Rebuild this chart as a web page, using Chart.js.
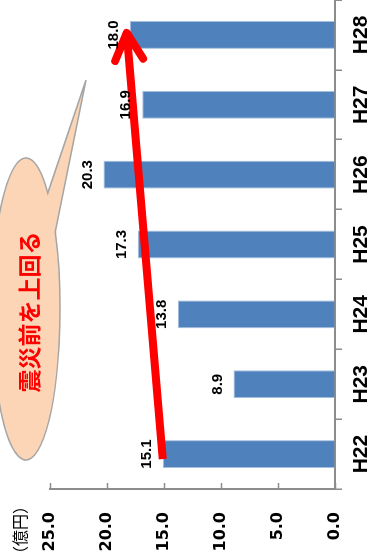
<!DOCTYPE html>
<html lang="ja">
<head>
<meta charset="utf-8">
<title>年度別推移</title>
<script src="https://cdn.jsdelivr.net/npm/chart.js@4.4.1/dist/chart.umd.min.js"></script>
<style>
  html, body { margin: 0; padding: 0; background: #fff; }
  body { width: 374px; height: 556px; overflow: hidden; position: relative; }
  /* chart is laid out landscape, then turned a quarter turn to the left */
  #wrap {
    position: absolute; left: 0; top: 0;
    width: 556px; height: 374px;
    transform-origin: 0 0;
    transform: translate(0, 556px) rotate(-90deg);
  }
</style>
</head>
<body>
<div id="wrap"><canvas id="chart" width="556" height="374"></canvas></div>
<script>
const years = ['H22', 'H23', 'H24', 'H25', 'H26', 'H27', 'H28'];
const amounts = [15.1, 8.9, 13.8, 17.3, 20.3, 16.9, 18.0];
const yTicks = [0, 5, 10, 15, 20, 25];
const unitLabel = '（億円）';
const calloutText = '震災前を上回る';

const AXIS_GREY = '#8c8c8c';

// value printed just past the end of each bar (drawn last so it sits over the arrow)
const valueLabels = {
  id: 'valueLabels',
  afterDraw(chart) {
    const ctx = chart.ctx;
    const meta = chart.getDatasetMeta(0);
    ctx.save();
    ctx.font = 'bold 15px "Liberation Sans", Arial, sans-serif';
    ctx.fillStyle = '#000';
    ctx.textAlign = 'center';
    ctx.textBaseline = 'alphabetic';
    meta.data.forEach((bar, i) => {
      ctx.fillText(amounts[i].toFixed(1), bar.x, bar.y - 12);
    });
    ctx.restore();
  }
};

// short tick marks on the inside of the value axis
const innerTicks = {
  id: 'innerTicks',
  afterDraw(chart) {
    const { ctx, scales: { y } } = chart;
    ctx.save();
    ctx.strokeStyle = AXIS_GREY;
    ctx.lineWidth = 1.5;
    y.ticks.forEach(t => {
      const py = Math.round(y.getPixelForValue(t.value)) + 0.5;
      ctx.beginPath();
      ctx.moveTo(y.right, py);
      ctx.lineTo(y.right + 6, py);
      ctx.stroke();
    });
    ctx.restore();
  }
};

// unit caption, speech bubble and the red trend arrow
const annotations = {
  id: 'annotations',
  afterDraw(chart) {
    const { ctx, scales: { x, y }, chartArea } = chart;
    ctx.save();

    ctx.font = '16px "Noto Sans CJK JP", sans-serif';
    ctx.fillStyle = '#000';
    ctx.textAlign = 'right';
    ctx.textBaseline = 'middle';
    ctx.fillText(unitLabel, chartArea.left - 9, 20);

    // bubble: ellipse with a pointed tail
    const ex = chartArea.left + 180, ey = 26, rx = 151, ry = 34;
    const tA = 0.695, tB = 1.034;
    const tipX = chartArea.left + 409, tipY = 86;
    ctx.beginPath();
    ctx.ellipse(ex, ey, rx, ry, 0, tB, tA + Math.PI * 2);
    ctx.lineTo(tipX, tipY);
    ctx.closePath();
    ctx.fillStyle = '#fbd5b5';
    ctx.fill();
    ctx.strokeStyle = '#a5a5a5';
    ctx.lineWidth = 1.5;
    ctx.stroke();

    ctx.font = 'bold 23px "Noto Sans CJK JP", sans-serif';
    ctx.fillStyle = '#ff0000';
    ctx.textAlign = 'center';
    ctx.textBaseline = 'middle';
    ctx.fillText(calloutText, ex - 3, ey + 3);

    // arrow from the first year's bar to the last year's bar
    const last = amounts.length - 1;
    const x0 = x.getPixelForValue(0) - 5, y0 = y.getPixelForValue(amounts[0]);
    const x1 = x.getPixelForValue(last) + 2, y1 = y.getPixelForValue(amounts[last]) - 3;
    const len = Math.hypot(x0 - x1, y0 - y1);
    const ux = (x0 - x1) / len, uy = (y0 - y1) / len;
    const nx = -uy, ny = ux;
    ctx.strokeStyle = '#ff0000';
    ctx.lineWidth = 8;
    ctx.lineCap = 'butt';
    ctx.beginPath();
    ctx.moveTo(x0, y0);
    ctx.lineTo(x1, y1);
    ctx.stroke();
    ctx.lineCap = 'round';
    ctx.lineJoin = 'round';
    ctx.beginPath();
    ctx.moveTo(x1 + ux * 27 + nx * 14, y1 + uy * 27 + ny * 14);
    ctx.lineTo(x1, y1);
    ctx.lineTo(x1 + ux * 27 - nx * 14, y1 + uy * 27 - ny * 14);
    ctx.stroke();

    ctx.restore();
  }
};

new Chart(document.getElementById('chart'), {
  type: 'bar',
  data: {
    labels: years,
    datasets: [{
      data: amounts,
      backgroundColor: '#4f81bd',
      borderColor: '#a7c0de',
      borderWidth: 1,
      barPercentage: 0.4,
      categoryPercentage: 1.0
    }]
  },
  options: {
    responsive: false,
    animation: false,
    layout: { padding: { top: 50, right: 0, bottom: 0, left: 0 } },
    plugins: {
      legend: { display: false },
      tooltip: { enabled: false }
    },
    scales: {
      x: {
        grid: {
          offset: true,
          drawOnChartArea: false,
          drawTicks: true,
          tickLength: 7,
          color: AXIS_GREY,
          lineWidth: 1.5
        },
        border: { color: AXIS_GREY, width: 2 },
        ticks: {
          color: '#000',
          font: { family: '"Liberation Sans", Arial, sans-serif', size: 21, weight: 'bold' },
          padding: 7,
          maxRotation: 0,
          autoSkip: false
        },
        afterFit(scale) { scale.height = 39; }
      },
      y: {
        min: 0,
        max: 25,
        afterBuildTicks(scale) { scale.ticks = yTicks.map(v => ({ value: v })); },
        grid: { drawOnChartArea: false, drawTicks: false },
        border: { color: AXIS_GREY, width: 2 },
        ticks: {
          color: '#000',
          font: { family: '"DejaVu Sans", sans-serif', size: 16, weight: 'bold' },
          padding: 23,
          callback: v => v.toFixed(1)
        },
        afterFit(scale) { scale.width = 67; }
      }
    }
  },
  plugins: [innerTicks, annotations, valueLabels]
});
</script>
</body>
</html>
